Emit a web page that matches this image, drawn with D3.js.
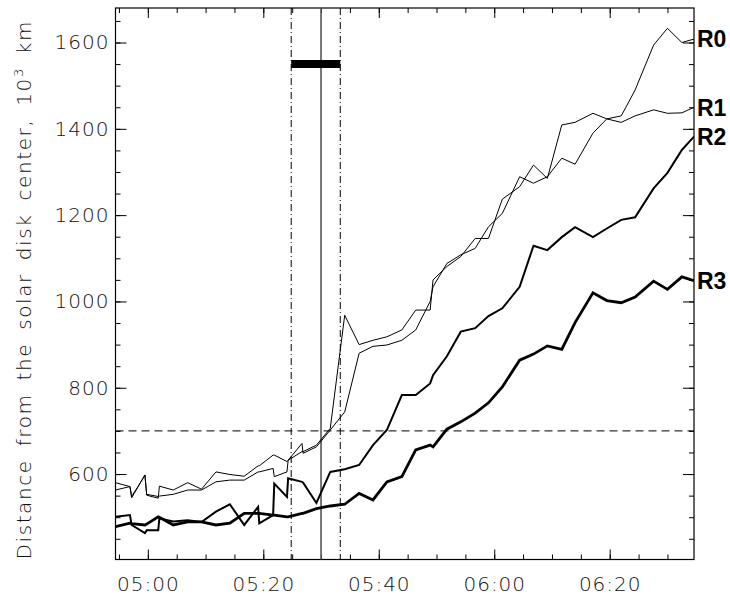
<!DOCTYPE html>
<html>
<head>
<meta charset="utf-8">
<script src="https://cdn.jsdelivr.net/npm/d3@7/dist/d3.min.js"></script>
<style>
  body { margin: 0; background: #fff; }
  svg { display: block; }
  .axis text { font-family: "DejaVu Sans", sans-serif; font-weight: 200; font-size: 20px; letter-spacing: 1px; fill: #111; }
  .axis line { stroke: #000; stroke-width: 1; }
</style>
</head>
<body>
<svg id="chart" width="730" height="599"></svg>
<script>
// sample times (UT)
const times = [
  "04:54:24", "04:56:54", "04:57:12", "04:59:30", "04:59:48", "05:01:48", "05:02:00",
  "05:04:24", "05:06:54", "05:09:18", "05:11:48", "05:14:12", "05:16:42", "05:19:06",
  "05:19:18", "05:21:42", "05:21:54", "05:24:06", "05:24:18", "05:26:42", "05:26:54",
  "05:29:12", "05:31:36", "05:34:06", "05:36:36", "05:39:00", "05:41:24", "05:44:00",
  "05:46:24", "05:48:54", "05:49:24", "05:51:48", "05:54:12", "05:56:42", "05:59:00",
  "06:01:24", "06:04:24", "06:06:48", "06:09:12", "06:11:42", "06:14:00", "06:17:06",
  "06:19:30", "06:22:00", "06:24:24", "06:27:36", "06:30:00", "06:32:30", "06:34:36"
];

// distance, 10^3 km
const r0 = [
  563, 571, 545, 598, 551, 544, 572, 563, 580, 565, 605, 599, 595, 619,
  619, 644, 644, 629, 632, 671, 648, 663, 702, 744, 880, 896, 899, 910,
  934, 1000, 1034, 1088, 1108, 1123, 1173, 1204, 1289, 1274, 1289, 1332, 1318, 1390,
  1423, 1430, 1490, 1594, 1633, 1600, 1608
];
const r1 = [
  580, 571, 548, 597, 553, 548, 549, 553, 563, 563, 582, 586, 586, 605,
  605, 613, 594, 605, 632, 652, 652, 667, 706, 968, 900, 910, 918, 934,
  980, 980, 1050, 1081, 1104, 1146, 1146, 1237, 1266, 1316, 1285, 1409, 1415, 1436,
  1423, 1415, 1430, 1444, 1436, 1437, 1450
];
const r2 = [
  501, 505, 482, 463, 470, 470, 497, 490, 493, 489, 513, 530, 482, 524,
  486, 505, 578, 547, 590, 582, 580, 533, 605, 611, 621, 667, 702, 783,
  783, 810, 829, 873, 930, 938, 966, 984, 1034, 1129, 1119, 1149, 1172, 1149,
  1169, 1189, 1195, 1262, 1298, 1351, 1382
];
const r3 = [
  478, 486, 485, 482, 484, 501, 500, 482, 489, 489, 482, 486, 509, 509,
  509, 505, 505, 501, 501, 509, 509, 520, 526, 530, 555, 540, 582, 594,
  656, 667, 663, 704, 721, 741, 765, 802, 864, 878, 897, 889, 951, 1020,
  1002, 997, 1010, 1047, 1028, 1057, 1048
];
const seriesNames = ["R0", "R1", "R2", "R3"];

const yMajorTicks = [600, 800, 1000, 1200, 1400, 1600];
const xMajorTicks = ["05:00:00", "05:20:00", "05:40:00", "06:00:00", "06:20:00"];
const timeRange = ["04:54:24", "06:34:36"];
const distRange = [402, 1680];

const windowTimes = ["05:24:50", "05:33:20"];   // dash-dot lines
const eventTime = "05:30:00";                    // solid line
const levelLine = 700;                           // dashed horizontal
const barLevel = 1550;                           // black bar between the window lines

const parse = d3.timeParse("%H:%M:%S");
const svg = d3.select("#chart");

const pLeft = 115.5, pRight = 694, pTop = 8, pBottom = 559.5;

const x = d3.scaleTime().domain(timeRange.map(parse)).range([pLeft, pRight]);
const y = d3.scaleLinear().domain(distRange).range([pBottom, pTop]);

const minorX = d3.timeMinute.every(5).range(x.domain()[0], x.domain()[1]);
const minorY = d3.range(450, 1680, 50);

// axes: major and minor ticks on all four sides, pointing inward
function ax(g, axis) { g.call(axis).call(s => s.select(".domain").remove()); }

svg.append("g").attr("class", "axis").attr("transform", `translate(0,${pBottom})`)
  .call(g => ax(g, d3.axisBottom(x).tickValues(minorX).tickSize(-5).tickFormat("")));
svg.append("g").attr("class", "axis").attr("transform", `translate(0,${pBottom})`)
  .call(g => ax(g, d3.axisBottom(x).tickValues(xMajorTicks.map(parse)).tickSize(-10)
    .tickPadding(17).tickFormat(d3.timeFormat("%H:%M"))));
svg.append("g").attr("class", "axis").attr("transform", `translate(0,${pTop})`)
  .call(g => ax(g, d3.axisTop(x).tickValues(minorX).tickSize(-5).tickFormat("")));
svg.append("g").attr("class", "axis").attr("transform", `translate(0,${pTop})`)
  .call(g => ax(g, d3.axisTop(x).tickValues(xMajorTicks.map(parse)).tickSize(-10).tickFormat("")));

svg.append("g").attr("class", "axis").attr("transform", `translate(${pLeft},0)`)
  .call(g => ax(g, d3.axisLeft(y).tickValues(minorY).tickSize(-5).tickFormat("")));
svg.append("g").attr("class", "axis").attr("transform", `translate(${pLeft},0)`)
  .call(g => ax(g, d3.axisLeft(y).tickValues(yMajorTicks).tickSize(-11).tickPadding(6)
    .tickFormat(d3.format("d"))));
svg.append("g").attr("class", "axis").attr("transform", `translate(${pRight},0)`)
  .call(g => ax(g, d3.axisRight(y).tickValues(minorY).tickSize(-5).tickFormat("")));
svg.append("g").attr("class", "axis").attr("transform", `translate(${pRight},0)`)
  .call(g => ax(g, d3.axisRight(y).tickValues(yMajorTicks).tickSize(-11).tickFormat("")));

svg.append("rect")
  .attr("x", pLeft).attr("y", pTop)
  .attr("width", pRight - pLeft).attr("height", pBottom - pTop)
  .attr("fill", "none").attr("stroke", "#000").attr("stroke-width", 1.2);

// reference lines
svg.append("line")
  .attr("x1", pLeft).attr("x2", pRight)
  .attr("y1", y(levelLine)).attr("y2", y(levelLine))
  .attr("stroke", "#000").attr("stroke-width", 1).attr("stroke-dasharray", "8,5");

svg.selectAll(".win").data(windowTimes).enter().append("line")
  .attr("class", "win")
  .attr("x1", d => x(parse(d))).attr("x2", d => x(parse(d)))
  .attr("y1", pTop).attr("y2", pBottom)
  .attr("stroke", "#000").attr("stroke-width", 1).attr("stroke-dasharray", "7,3,1,3");

svg.append("line")
  .attr("x1", x(parse(eventTime))).attr("x2", x(parse(eventTime)))
  .attr("y1", pTop).attr("y2", pBottom)
  .attr("stroke", "#555").attr("stroke-width", 1.6);

svg.append("line")
  .attr("x1", x(parse(windowTimes[0]))).attr("x2", x(parse(windowTimes[1])))
  .attr("y1", y(barLevel)).attr("y2", y(barLevel))
  .attr("stroke", "#000").attr("stroke-width", 8);

// the four tracks
svg.append("clipPath").attr("id", "plot")
  .append("rect").attr("x", pLeft).attr("y", pTop)
  .attr("width", pRight - pLeft).attr("height", pBottom - pTop);

const series = [r0, r1, r2, r3];
const widths = [1, 1, 2, 2.8];
const line = d3.line()
  .x((d, i) => x(parse(times[i])))
  .y(d => y(d));

svg.append("g").attr("clip-path", "url(#plot)")
  .selectAll("path").data(series).enter().append("path")
  .attr("d", line)
  .attr("fill", "none")
  .attr("stroke", "#000")
  .attr("stroke-width", (d, i) => widths[i])
  .attr("stroke-linejoin", "miter");

svg.selectAll(".rlabel").data(series).enter().append("text")
  .attr("class", "rlabel")
  .attr("x", pRight + 3)
  .attr("y", d => y(d[d.length - 1]))
  .attr("dy", "0.36em")
  .style("font-family", "'Liberation Sans', Arial, sans-serif")
  .style("font-weight", "bold")
  .style("font-size", "23px")
  .text((d, i) => seriesNames[i]);

// y title
const title = svg.append("text")
  .attr("transform", `translate(31,${(pTop + pBottom) / 2 + 6}) rotate(-90)`)
  .attr("text-anchor", "middle")
  .style("font-family", "'DejaVu Sans', sans-serif")
  .style("font-weight", "200")
  .style("font-size", "20px")
  .style("letter-spacing", "1.6px")
  .style("word-spacing", "5px")
  .style("fill", "#111");
title.append("tspan").text("Distance from the solar disk center, 10");
title.append("tspan").attr("dy", "-8").style("font-size", "13px").text("3");
title.append("tspan").attr("dy", "8").text(" km");
</script>
</body>
</html>
